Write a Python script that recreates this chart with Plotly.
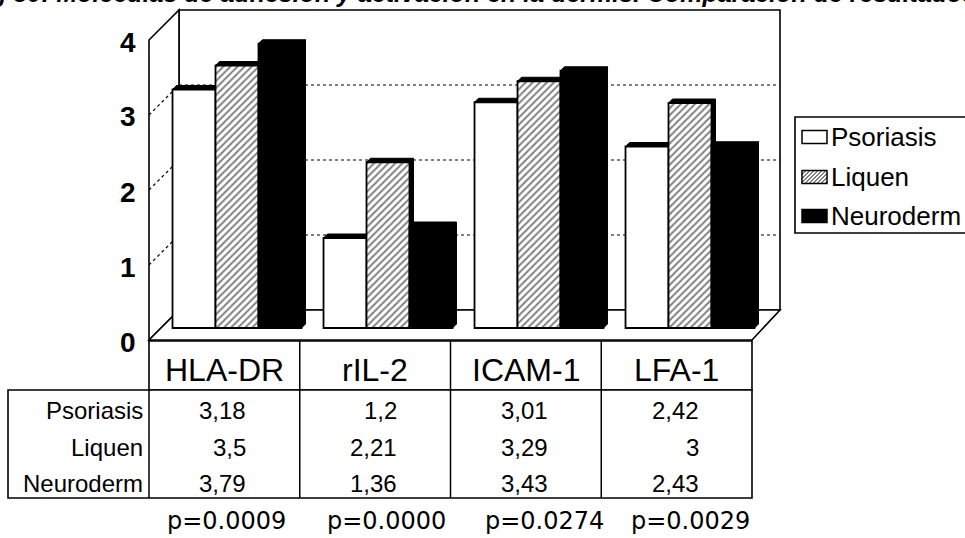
import plotly.graph_objects as go

# ---- data -------------------------------------------------------------
CATEGORIES = ["HLA-DR", "rIL-2", "ICAM-1", "LFA-1"]
SERIES = ["Psoriasis", "Liquen", "Neuroderm"]
PSORIASIS = [3.18, 1.2, 3.01, 2.42]
LIQUEN = [3.5, 2.21, 3.29, 3.0]
NEURODERM = [3.79, 1.36, 3.43, 2.43]
P_VALUES = ["p=0.0009", "p=0.0000", "p=0.0274", "p=0.0029"]
Y_TICKS = [0, 1, 2, 3, 4]
TITLE = "Fig 30: Moléculas de adhesión y activación en la dermis. Comparación de resultados"

VALUES = [PSORIASIS, LIQUEN, NEURODERM]

# ---- page geometry (pixels) -------------------------------------------
W, H = 965, 538
GROUP0_PX = 237        # centre of first category group
GROUP_STEP_PX = 151    # distance between category groups
BASE_PX = 328          # bar base line
UNIT_PX = 75           # pixels per value unit
FRONT_L, FRONT_R = 149, 752   # front edge of the floor
FRONT_Y = 340
DX3D, DY3D = 30, -30          # offset from front edge to back wall
BACK_R = 780
BAR_DEPTH = 4                 # visible depth of each column
BARGAP = 0.146
FONT = "Liberation Sans"

def paper(x, y):
    return x / W, 1 - y / H

def fmt(v):
    return f"{v:g}".replace(".", ",")

fig = go.Figure()

# ---- columns ----------------------------------------------------------
styles = [
    dict(color="white"),
    dict(color="white", pattern=dict(shape="/", fgcolor="black", bgcolor="white",
                                     size=5, solidity=0.4)),
    dict(color="black"),
]
for name, vals, st in zip(SERIES, VALUES, styles):
    fig.add_trace(go.Bar(
        x=list(range(len(CATEGORIES))), y=vals, name=name,
        marker=dict(line=dict(color="black", width=1.8), **st),
        showlegend=False, hoverinfo="name+y",
    ))

shapes = []

def pshape(points, **kw):
    d = "M " + " L ".join(f"{x/W:.5f},{1 - y/H:.5f}" for x, y in points) + " Z"
    shapes.append(dict(type="path", path=d, xref="paper", yref="paper", layer="below", **kw))

def pline(x0, y0, x1, y1, dash="solid", width=1.5):
    a, b = paper(x0, y0)
    c, d = paper(x1, y1)
    shapes.append(dict(type="line", x0=a, y0=b, x1=c, y1=d, xref="paper", yref="paper",
                       layer="below", line=dict(color="black", width=width, dash=dash)))

# back wall, left wall and floor
bl, br = FRONT_L + DX3D, BACK_R
back_bottom = FRONT_Y + DY3D
back_top = back_bottom - 4 * UNIT_PX
pshape([(bl, back_top), (br, back_top), (br, back_bottom), (bl, back_bottom)],
       line=dict(color="black", width=1.6), fillcolor="white")
pshape([(FRONT_L, FRONT_Y - 4 * UNIT_PX), (bl, back_top), (bl, back_bottom), (FRONT_L, FRONT_Y)],
       line=dict(color="black", width=1.6), fillcolor="white")
pshape([(FRONT_L, FRONT_Y), (bl, back_bottom), (br, back_bottom), (FRONT_R, FRONT_Y)],
       line=dict(color="black", width=1.6), fillcolor="white")
for t in Y_TICKS[1:-1]:
    pline(bl, back_bottom - t * UNIT_PX, br, back_bottom - t * UNIT_PX, dash="dot", width=1.2)
    pline(FRONT_L, FRONT_Y - t * UNIT_PX, bl, back_bottom - t * UNIT_PX, dash="dot", width=1.2)

# column tops and sides, in data coordinates
group_w = 1 - BARGAP
bar_w = group_w / len(SERIES)
dxd = BAR_DEPTH / GROUP_STEP_PX
dyd = BAR_DEPTH / UNIT_PX
for i, vals in enumerate(VALUES):
    for j, v in enumerate(vals):
        x0 = j - group_w / 2 + i * bar_w
        x1 = x0 + bar_w
        top = f"M {x0},{v} L {x0+dxd},{v+dyd} L {x1+dxd},{v+dyd} L {x1},{v} Z"
        side = f"M {x1},0 L {x1},{v} L {x1+dxd},{v+dyd} L {x1+dxd},{dyd} Z"
        for d in (side, top):
            shapes.append(dict(type="path", path=d, xref="x", yref="y", layer="below",
                               fillcolor="black", line=dict(color="black", width=1)))

# ---- data table -------------------------------------------------------
col_w = (FRONT_R - FRONT_L) / len(CATEGORIES)
head_top, head_bot = FRONT_Y + 1, 390
tab_left, tab_bot = 8, 498
pshape([(FRONT_L, head_top), (FRONT_R, head_top), (FRONT_R, head_bot), (FRONT_L, head_bot)],
       line=dict(color="black", width=1.6), fillcolor="white")
pshape([(tab_left, head_bot), (FRONT_R, head_bot), (FRONT_R, tab_bot), (tab_left, tab_bot)],
       line=dict(color="black", width=1.6), fillcolor="white")
for k in range(1, len(CATEGORIES)):
    xk = FRONT_L + k * col_w
    pline(xk, head_top, xk, tab_bot)
pline(FRONT_L, head_bot, FRONT_L, tab_bot)

annotations = []

def text(x, y, s, size, anchor="center", family=FONT, **kw):
    px, py = paper(x, y)
    annotations.append(dict(x=px, y=py, xref="paper", yref="paper", text=s, showarrow=False,
                            xanchor=anchor, yanchor="middle",
                            font=dict(family=family, size=size, color="black"), **kw))

# value axis labels on the front edge
for t in Y_TICKS:
    text(138, FRONT_Y + 2 - t * UNIT_PX, f"<b>{t}</b>", 28, anchor="right")

row_y = [410, 447, 483]
for j, cat in enumerate(CATEGORIES):
    cx = FRONT_L + (j + 0.5) * col_w
    text(cx, 370, cat, 32)
    for i, vals in enumerate(VALUES):
        text(cx + 24, row_y[i], fmt(vals[j]), 24, anchor="right")
for i, name in enumerate(SERIES):
    text(145, row_y[i], name, 24, anchor="right")

P_X_PX = [226, 386, 544, 690]
for x, p in zip(P_X_PX, P_VALUES):
    text(x, 521, p, 24, family="DejaVu Sans")

# ---- legend -----------------------------------------------------------
pshape([(795, 117), (980, 117), (980, 233), (795, 233)],
       line=dict(color="black", width=1.6), fillcolor="white")
leg_y = [137, 177, 216]
sw_l, sw_r, sw_h = 802, 827, 13
for i, name in enumerate(SERIES):
    yc = leg_y[i]
    fill = "black" if i == 2 else "white"
    pshape([(sw_l, yc - sw_h / 2), (sw_r, yc - sw_h / 2), (sw_r, yc + sw_h / 2), (sw_l, yc + sw_h / 2)],
           line=dict(color="black", width=1.5), fillcolor=fill)
    if i == 1:
        # diagonal hatching inside the swatch
        y0, y1 = yc + sw_h / 2, yc - sw_h / 2
        s = -sw_h
        while s < sw_r - sw_l:
            xa, xb = sw_l + s, sw_l + s + sw_h
            ya, yb = y0, y1
            if xa < sw_l:
                ya = y0 - (sw_l - xa); xa = sw_l
            if xb > sw_r:
                yb = y1 + (xb - sw_r); xb = sw_r
            if xb > xa:
                pline(xa, ya, xb, yb, width=1)
            s += 4
    text(829, yc, name, 26, anchor="left")

# ---- title (runs off the top of the page) -----------------------------
text(-33, -7, f"<b><i>{TITLE}</i></b>", 25, anchor="left")

fig.update_layout(
    width=W, height=H,
    margin=dict(l=0, r=0, t=0, b=0),
    paper_bgcolor="white", plot_bgcolor="rgba(0,0,0,0)",
    barmode="group", bargap=BARGAP, bargroupgap=0,
    xaxis=dict(range=[(0 - GROUP0_PX) / GROUP_STEP_PX, (W - GROUP0_PX) / GROUP_STEP_PX],
               domain=[0, 1], visible=False, fixedrange=True),
    yaxis=dict(range=[(BASE_PX - H) / UNIT_PX, BASE_PX / UNIT_PX],
               domain=[0, 1], visible=False, fixedrange=True),
    shapes=shapes, annotations=annotations,
    showlegend=False,
)

fig.write_html("out.html")
